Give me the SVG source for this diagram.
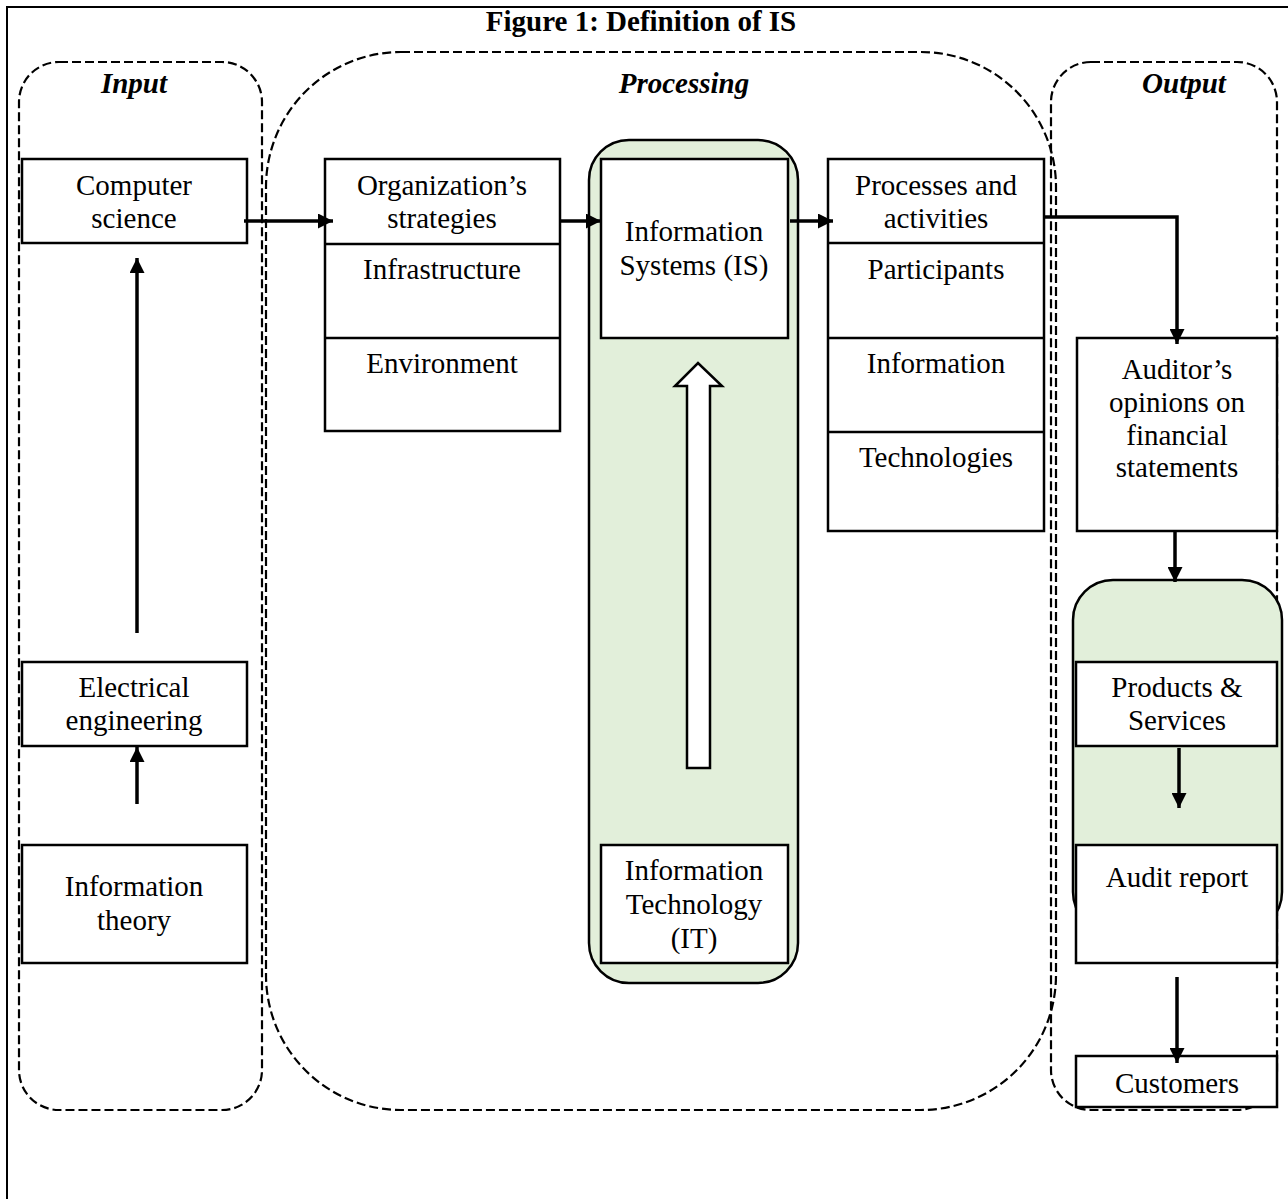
<svg xmlns="http://www.w3.org/2000/svg" width="1288" height="1199" viewBox="0 0 1288 1199">
  <style>
    .frame { fill: none; stroke: #000; stroke-width: 2; }
    .zone { fill: none; stroke: #000; stroke-width: 2.2; stroke-dasharray: 9 4; }
    .panel { fill: #E2EFDA; stroke: #000; stroke-width: 2.5; }
    .box { fill: #fff; stroke: #000; stroke-width: 2.5; }
    .div { stroke: #000; stroke-width: 2.5; }
    .lbl { font-family: "Liberation Serif", "Times New Roman", serif; font-size: 29px; fill: #000; text-anchor: middle; }
    .head { font-family: "Liberation Serif", "Times New Roman", serif; font-size: 29px; font-weight: bold; font-style: italic; fill: #000; text-anchor: middle; }
    .title { font-family: "Liberation Serif", "Times New Roman", serif; font-size: 29px; font-weight: bold; fill: #000; text-anchor: middle; }
    .conn { fill: none; stroke: #000; stroke-width: 3.5; marker-end: url(#arrow); }
    .hollow { fill: #fff; stroke: #000; stroke-width: 2.5; }
  </style>
  <defs>
    <marker id="arrow" markerUnits="userSpaceOnUse" markerWidth="15" markerHeight="15" refX="15" refY="7.5" orient="auto">
      <path d="M0,0 L15,7.5 L0,15 z" fill="#000"/>
    </marker>
  </defs>

  <rect width="1288" height="1199" fill="#fff"/>
  <!-- page frame -->
  <rect class="frame" x="7" y="7" width="1300" height="1220"/>

  <text class="title" x="641" y="31">Figure 1: Definition of IS</text>

  <!-- dashed zones -->
  <g id="zone-input">
    <rect class="zone" x="19" y="62" width="243" height="1048" rx="40" ry="40"/>
    <text class="head" x="134" y="93">Input</text>
  </g>
  <g id="zone-processing">
    <rect class="zone" x="266" y="52" width="790" height="1058" rx="135" ry="135"/>
    <text class="head" x="684" y="93">Processing</text>
  </g>
  <g id="zone-output">
    <rect class="zone" x="1051" y="62" width="226" height="1048" rx="40" ry="40"/>
    <text class="head" x="1184" y="93">Output</text>
  </g>

  <!-- green panels -->
  <g id="panel-is">
    <rect class="panel" x="589" y="140" width="209" height="843" rx="40" ry="40"/>
  </g>
  <g id="panel-output">
    <rect class="panel" x="1073" y="580" width="209" height="352" rx="40" ry="40"/>
  </g>

  <!-- input column -->
  <g id="computer-science">
    <rect class="box" x="22" y="159" width="225" height="84"/>
    <text class="lbl" x="134" y="195">Computer</text>
    <text class="lbl" x="134" y="228">science</text>
  </g>
  <g id="electrical-engineering">
    <rect class="box" x="22" y="662" width="225" height="84"/>
    <text class="lbl" x="134" y="697">Electrical</text>
    <text class="lbl" x="134" y="730">engineering</text>
  </g>
  <g id="information-theory">
    <rect class="box" x="22" y="845" width="225" height="118"/>
    <text class="lbl" x="134" y="896">Information</text>
    <text class="lbl" x="134" y="930">theory</text>
  </g>

  <!-- processing column -->
  <g id="organization">
    <rect class="box" x="325" y="159" width="235" height="272"/>
    <line class="div" x1="325" y1="244" x2="560" y2="244"/>
    <line class="div" x1="325" y1="338" x2="560" y2="338"/>
    <text class="lbl" x="442" y="195">Organization’s</text>
    <text class="lbl" x="442" y="228">strategies</text>
    <text class="lbl" x="442" y="279">Infrastructure</text>
    <text class="lbl" x="442" y="373">Environment</text>
  </g>
  <g id="information-systems">
    <rect class="box" x="601" y="159" width="187" height="179"/>
    <text class="lbl" x="694" y="241">Information</text>
    <text class="lbl" x="694" y="275">Systems (IS)</text>
  </g>
  <g id="information-technology">
    <rect class="box" x="601" y="845" width="187" height="118"/>
    <text class="lbl" x="694" y="880">Information</text>
    <text class="lbl" x="694" y="914">Technology</text>
    <text class="lbl" x="694" y="948">(IT)</text>
  </g>
  <g id="processes">
    <rect class="box" x="828" y="159" width="216" height="372"/>
    <line class="div" x1="828" y1="243" x2="1044" y2="243"/>
    <line class="div" x1="828" y1="338" x2="1044" y2="338"/>
    <line class="div" x1="828" y1="432" x2="1044" y2="432"/>
    <text class="lbl" x="936" y="195">Processes and</text>
    <text class="lbl" x="936" y="228">activities</text>
    <text class="lbl" x="936" y="279">Participants</text>
    <text class="lbl" x="936" y="373">Information</text>
    <text class="lbl" x="936" y="467">Technologies</text>
  </g>

  <!-- output column -->
  <g id="auditor-opinions">
    <rect class="box" x="1077" y="338" width="200" height="193"/>
    <text class="lbl" x="1177" y="379">Auditor’s</text>
    <text class="lbl" x="1177" y="412">opinions on</text>
    <text class="lbl" x="1177" y="445">financial</text>
    <text class="lbl" x="1177" y="477">statements</text>
  </g>
  <g id="products-services">
    <rect class="box" x="1076" y="662" width="201" height="84"/>
    <text class="lbl" x="1177" y="697">Products &amp;</text>
    <text class="lbl" x="1177" y="730">Services</text>
  </g>
  <g id="audit-report">
    <rect class="box" x="1076" y="845" width="201" height="118"/>
    <text class="lbl" x="1177" y="887">Audit report</text>
  </g>
  <g id="customers">
    <rect class="box" x="1076" y="1056" width="201" height="51"/>
    <text class="lbl" x="1177" y="1093">Customers</text>
  </g>

  <!-- connectors -->
  <g id="connectors">
    <line class="conn" x1="137" y1="633" x2="137" y2="258"/>
    <line class="conn" x1="137" y1="804" x2="137" y2="747"/>
    <line class="conn" x1="244" y1="221" x2="333" y2="221"/>
    <line class="conn" x1="561" y1="221" x2="601" y2="221"/>
    <line class="conn" x1="790" y1="221" x2="833" y2="221"/>
    <polyline class="conn" points="1044,217 1177,217 1177,344"/>
    <line class="conn" x1="1175" y1="531" x2="1175" y2="582"/>
    <line class="conn" x1="1179" y1="748" x2="1179" y2="808"/>
    <line class="conn" x1="1177" y1="977" x2="1177" y2="1063"/>
    <!-- block arrow: IT supports IS -->
    <polygon class="hollow" points="687,768 687,386 675,386 698,363 722,386 710,386 710,768"/>
  </g>
</svg>
